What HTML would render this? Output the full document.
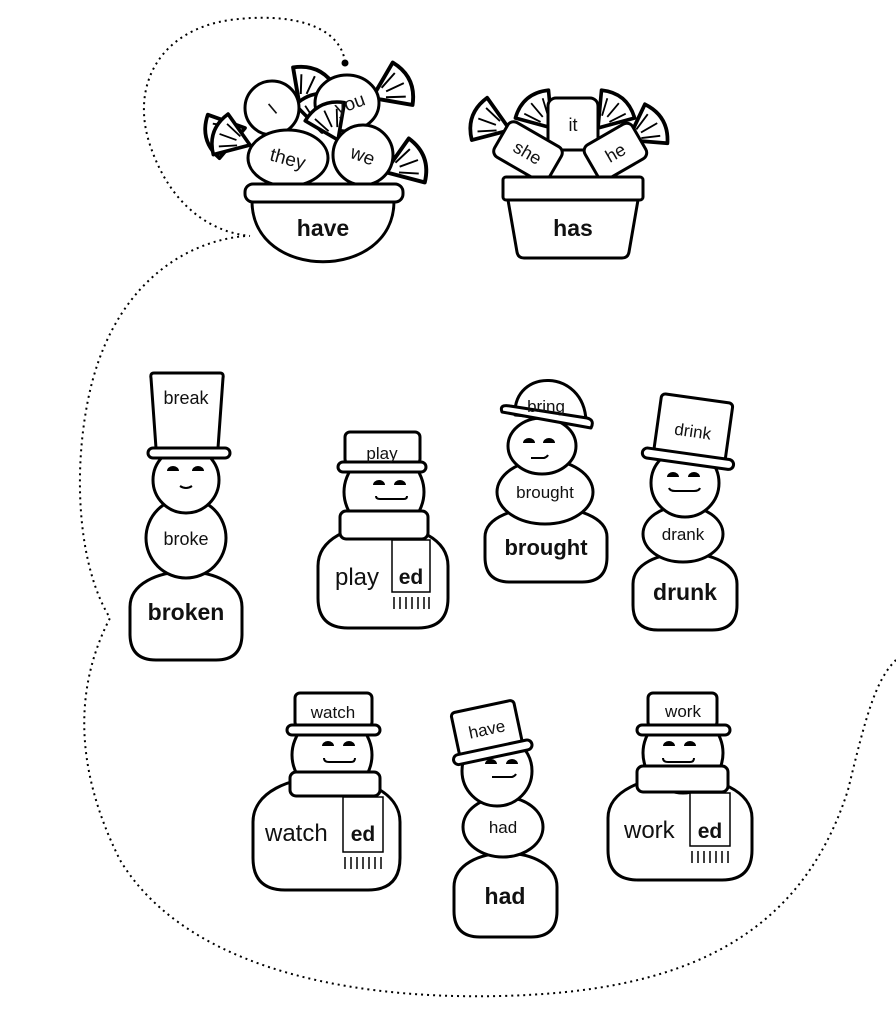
<!DOCTYPE html>
<html><head><meta charset="utf-8"><style>
html,body{margin:0;padding:0;background:#fff}
svg{display:block}
text{font-family:"Liberation Sans","DejaVu Sans",sans-serif;fill:#111}
.s{fill:#fff;stroke:#000;stroke-width:3;stroke-linejoin:round}
.b{font-weight:bold}
</style></head><body>
<svg width="896" height="1016" viewBox="0 0 896 1016" xmlns="http://www.w3.org/2000/svg">
<defs>
<g id="fan"><path class="s" d="M0,0 L26,-18 Q38,0 26,18 Z" stroke-width="2.5"/><path d="M10,-4 L24,-10 M12,0 L27,0 M10,4 L24,10" stroke="#000" stroke-width="1.5" fill="none"/></g>
</defs>
<g fill="none" stroke="#000" stroke-width="2" stroke-dasharray="2 4">
<path d="M345,62 C340,25 290,12 230,20 C160,30 130,85 150,145 C170,205 210,232 250,236"/>
<path d="M245,236 C180,242 110,290 88,400 C72,480 80,570 110,618 C78,680 70,760 120,860 C180,960 330,1000 500,996 C680,992 800,940 848,790 C865,720 875,680 896,660"/>
</g>
<circle cx="345" cy="63" r="3.5" fill="#000"/>

<!-- have bowl -->
<use href="#fan" transform="translate(245,128) rotate(165) scale(1.25)"/>
<use href="#fan" transform="translate(250,145) rotate(200) scale(1.2)"/>
<use href="#fan" transform="translate(300,108) rotate(-65) scale(1.3)"/>
<use href="#fan" transform="translate(372,98) rotate(-25) scale(1.3)"/>
<use href="#fan" transform="translate(322,132) rotate(-100) scale(1.2)"/>
<use href="#fan" transform="translate(385,172) rotate(-20) scale(1.3)"/>
<ellipse class="s" cx="347" cy="103" rx="32" ry="28"/>
<circle class="s" cx="272" cy="108" r="27"/>
<ellipse class="s" cx="288" cy="158" rx="40" ry="28"/>
<use href="#fan" transform="translate(338,140) rotate(-115) scale(1.2)"/>
<circle class="s" cx="363" cy="155" r="30"/>
<text x="272" y="115" font-size="18" text-anchor="middle" transform="rotate(-40 272 108)">I</text>
<text x="350" y="110" font-size="19" text-anchor="middle" transform="rotate(-20 350 104)">you</text>
<text x="288" y="165" font-size="19" text-anchor="middle" transform="rotate(15 288 158)">they</text>
<text x="363" y="162" font-size="19" text-anchor="middle" transform="rotate(20 363 155)">we</text>
<path class="s" d="M252,201 C252,282 394,282 394,201 Z"/>
<rect class="s" x="245" y="184" width="158" height="18" rx="8"/>
<text x="323" y="236" font-size="23" class="b" text-anchor="middle">have</text>

<!-- has pot -->
<use href="#fan" transform="translate(510,130) rotate(200) scale(1.25)"/>
<use href="#fan" transform="translate(552,128) rotate(230) scale(1.2)"/>
<use href="#fan" transform="translate(598,128) rotate(-50) scale(1.2)"/>
<use href="#fan" transform="translate(628,140) rotate(-30) scale(1.25)"/>
<rect class="s" x="548" y="98" width="50" height="52" rx="8"/>
<rect class="s" x="497" y="132" width="62" height="40" rx="7" transform="rotate(30 528 152)"/>
<rect class="s" x="588" y="132" width="55" height="40" rx="7" transform="rotate(-30 615 152)"/>
<text x="573" y="131" font-size="18" text-anchor="middle">it</text>
<text x="528" y="159" font-size="18" text-anchor="middle" transform="rotate(30 528 152)">she</text>
<text x="615" y="159" font-size="18" text-anchor="middle" transform="rotate(-30 615 152)">he</text>
<path class="s" d="M508,200 L638,200 L629,252 Q628,258 622,258 L524,258 Q518,258 517,252 Z"/>
<rect class="s" x="503" y="177" width="140" height="23" rx="3"/>
<text x="573" y="236" font-size="23" class="b" text-anchor="middle">has</text>

<!-- break snowman -->
<path class="s" d="M130,607 C130,560 242,560 242,607 L242,634 Q242,660 216,660 L156,660 Q130,660 130,634 Z"/>
<circle class="s" cx="186" cy="538" r="40"/>
<circle class="s" cx="186" cy="480" r="33"/>
<path class="s" d="M154,373 L220,373 Q224,373 223,378 L218,448 L156,448 L151,378 Q150,373 154,373 Z"/>
<rect class="s" x="148" y="448" width="82" height="10" rx="5"/>
<path d="M167,471 a6,5 0 0 1 12,0 Z M192,471 a6,5 0 0 1 12,0 Z" fill="#000"/>
<path d="M180,486 Q186,490 192,486" stroke="#000" stroke-width="2" fill="none"/>
<text x="186" y="404" font-size="18" text-anchor="middle">break</text>
<text x="186" y="545" font-size="18" text-anchor="middle">broke</text>
<text x="186" y="620" font-size="23" class="b" text-anchor="middle">broken</text>

<!-- play snowman -->
<path class="s" d="M318,566 C318,511 448,511 448,566 L448,598 Q448,628 418,628 L348,628 Q318,628 318,598 Z"/>
<circle class="s" cx="384" cy="492" r="40"/>
<rect class="s" x="345" y="432" width="75" height="32" rx="5"/>
<rect class="s" x="338" y="462" width="88" height="10" rx="5"/>
<path d="M373,485 a6,5 0 0 1 12,0 Z M394,485 a6,5 0 0 1 12,0 Z" fill="#000"/>
<path d="M376,496 Q376,499 380,499 L404,499 Q407,499 407,496" stroke="#000" stroke-width="2" fill="none"/>
<rect class="s" x="340" y="511" width="88" height="28" rx="6"/>
<rect x="392" y="540" width="38" height="52" fill="#fff" stroke="#000" stroke-width="1.5"/>
<path d="M394,597v12M400,597v12M406,597v12M412,597v12M418,597v12M424,597v12M429,597v12" stroke="#000" stroke-width="1.5"/>
<text x="382" y="459" font-size="17" text-anchor="middle">play</text>
<text x="335" y="585" font-size="24">play</text>
<text x="411" y="584" font-size="21" class="b" text-anchor="middle">ed</text>

<!-- bring snowman -->
<path class="s" d="M485,537 C485,497 607,497 607,537 L607,557 Q607,582 582,582 L510,582 Q485,582 485,557 Z"/>
<ellipse class="s" cx="545" cy="492" rx="48" ry="32"/>
<ellipse class="s" cx="542" cy="446" rx="34" ry="28"/>
<path class="s" d="M515,415 C513,368 584,368 586,421 Z"/>
<path class="s" d="M502,412 Q499,404 510,406 L587,418 Q595,420 591,428 Z"/>
<path d="M523,443 a6,5 0 0 1 12,0 Z M543,443 a6,5 0 0 1 12,0 Z" fill="#000"/>
<path d="M531,458 L544,458 Q547,457 548,455" stroke="#000" stroke-width="2" fill="none"/>
<text x="546" y="412" font-size="17" text-anchor="middle">bring</text>
<text x="545" y="498" font-size="17" text-anchor="middle">brought</text>
<text x="546" y="555" font-size="22" class="b" text-anchor="middle">brought</text>

<!-- drink snowman -->
<path class="s" d="M633,584 C633,543 737,543 737,584 L737,605 Q737,630 712,630 L658,630 Q633,630 633,605 Z"/>
<ellipse class="s" cx="683" cy="534" rx="40" ry="28"/>
<circle class="s" cx="685" cy="483" r="34"/>
<g transform="rotate(8 692 430)">
<rect class="s" x="657" y="398" width="72" height="58" rx="4"/>
<rect class="s" x="646" y="454" width="92" height="10" rx="5"/>
<text x="693" y="437" font-size="17" text-anchor="middle">drink</text>
</g>
<path d="M667,477 a6,5 0 0 1 12,0 Z M688,477 a6,5 0 0 1 12,0 Z" fill="#000"/>
<path d="M669,488 Q670,491 675,491 L694,491 Q699,491 700,488" stroke="#000" stroke-width="2" fill="none"/>
<text x="683" y="540" font-size="17" text-anchor="middle">drank</text>
<text x="685" y="600" font-size="23" class="b" text-anchor="middle">drunk</text>

<!-- watch snowman -->
<path class="s" d="M253,822 C253,762 400,762 400,822 L400,858 Q400,890 368,890 L285,890 Q253,890 253,858 Z"/>
<circle class="s" cx="332" cy="755" r="40"/>
<rect class="s" x="295" y="693" width="77" height="34" rx="5"/>
<rect class="s" x="287" y="725" width="93" height="10" rx="5"/>
<path d="M322,746 a6,5 0 0 1 12,0 Z M343,746 a6,5 0 0 1 12,0 Z" fill="#000"/>
<path d="M324,758 Q324,762 329,762 L351,762 Q355,762 355,758" stroke="#000" stroke-width="2" fill="none"/>
<rect class="s" x="290" y="772" width="90" height="24" rx="6"/>
<rect x="343" y="797" width="40" height="55" fill="#fff" stroke="#000" stroke-width="1.5"/>
<path d="M345,857v12M351,857v12M357,857v12M363,857v12M369,857v12M375,857v12M381,857v12" stroke="#000" stroke-width="1.5"/>
<text x="333" y="718" font-size="17" text-anchor="middle">watch</text>
<text x="265" y="841" font-size="24">watch</text>
<text x="363" y="841" font-size="21" class="b" text-anchor="middle">ed</text>

<!-- have/had snowman -->
<path class="s" d="M454,887 C454,842 557,842 557,887 L557,911 Q557,937 531,937 L480,937 Q454,937 454,911 Z"/>
<ellipse class="s" cx="503" cy="827" rx="40" ry="30"/>
<circle class="s" cx="497" cy="771" r="35"/>
<g transform="rotate(-12 487 730)">
<rect class="s" x="455" y="706" width="64" height="44" rx="4"/>
<rect class="s" x="448" y="748" width="80" height="10" rx="5"/>
<text x="487" y="735" font-size="17" text-anchor="middle">have</text>
</g>
<path d="M485,764 a6,5 0 0 1 12,0 Z M506,764 a6,5 0 0 1 12,0 Z" fill="#000"/>
<path d="M492,777 L512,777 Q515,776 516,774" stroke="#000" stroke-width="2" fill="none"/>
<text x="503" y="833" font-size="17" text-anchor="middle">had</text>
<text x="505" y="904" font-size="23" class="b" text-anchor="middle">had</text>

<!-- work snowman -->
<path class="s" d="M608,818 C608,763 752,763 752,818 L752,850 Q752,880 722,880 L638,880 Q608,880 608,850 Z"/>
<circle class="s" cx="683" cy="753" r="40"/>
<rect class="s" x="648" y="693" width="69" height="34" rx="5"/>
<rect class="s" x="637" y="725" width="93" height="10" rx="5"/>
<path d="M663,746 a6,5 0 0 1 12,0 Z M684,746 a6,5 0 0 1 12,0 Z" fill="#000"/>
<path d="M663,758 Q663,762 668,762 L690,762 Q694,762 694,758" stroke="#000" stroke-width="2" fill="none"/>
<rect class="s" x="637" y="766" width="91" height="26" rx="6"/>
<rect x="690" y="793" width="40" height="53" fill="#fff" stroke="#000" stroke-width="1.5"/>
<path d="M692,851v12M698,851v12M704,851v12M710,851v12M716,851v12M722,851v12M728,851v12" stroke="#000" stroke-width="1.5"/>
<text x="683" y="717" font-size="17" text-anchor="middle">work</text>
<text x="624" y="838" font-size="24">work</text>
<text x="710" y="838" font-size="21" class="b" text-anchor="middle">ed</text>
</svg>
</body></html>
